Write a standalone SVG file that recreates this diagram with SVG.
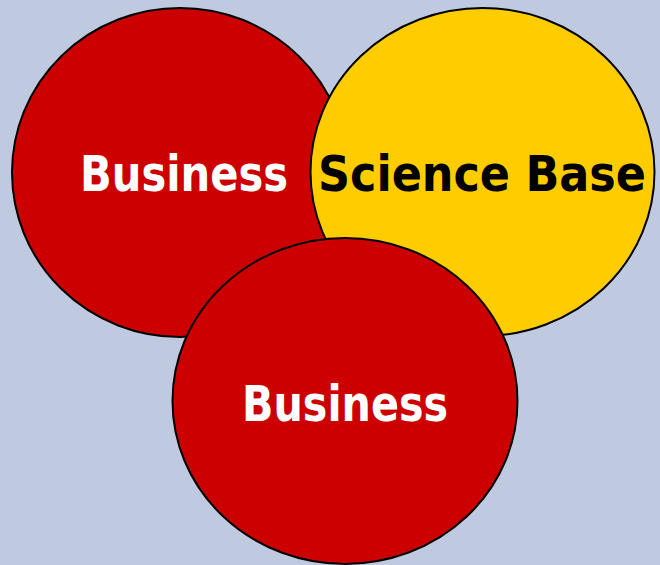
<svg xmlns="http://www.w3.org/2000/svg" width="660" height="565" viewBox="0 0 660 565">
<style>
.c{stroke:#000;stroke-width:2}
.red{fill:#CC0000}
.yel{fill:#FFCC00}
.t{font-family:"DejaVu Sans","Liberation Sans",sans-serif;font-weight:bold;font-size:50px}
.w{fill:#fff}
.k{fill:#000}
</style>
<rect width="660" height="565" fill="#BFCAE1"/>
<g id="business-left">
<ellipse class="c red" cx="180" cy="172.5" rx="168" ry="164.5"/>
<text class="t w" x="80" y="191" textLength="208" lengthAdjust="spacingAndGlyphs">Business</text>
</g>
<g id="science-base">
<ellipse class="c yel" cx="482.5" cy="172" rx="172" ry="164"/>
<text class="t k" x="318" y="191" textLength="328" lengthAdjust="spacingAndGlyphs">Science Base</text>
</g>
<g id="business-bottom">
<ellipse class="c red" cx="345" cy="401" rx="172.5" ry="163"/>
<text class="t w" x="242" y="421" textLength="206" lengthAdjust="spacingAndGlyphs">Business</text>
</g>
<g id="connectors"/>
</svg>
